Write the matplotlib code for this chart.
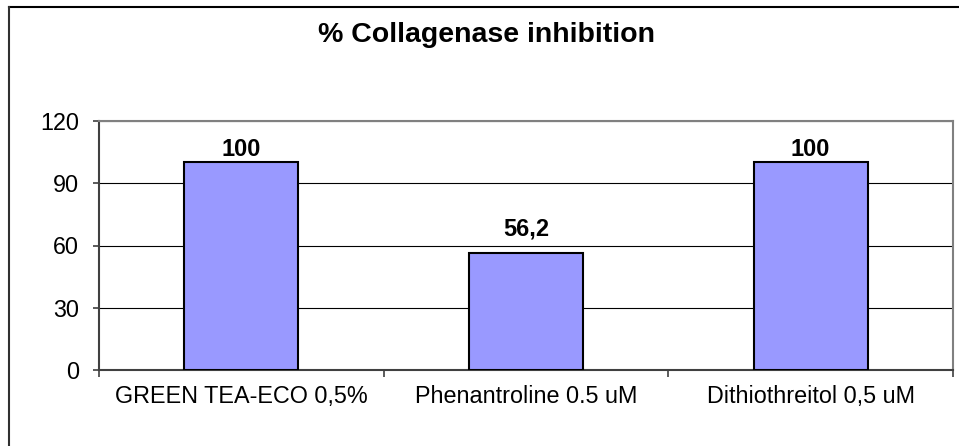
import matplotlib
matplotlib.use("Agg")
import matplotlib.pyplot as plt
from matplotlib.lines import Line2D

categories = ["GREEN TEA-ECO 0,5%", "Phenantroline 0.5 uM", "Dithiothreitol 0,5 uM"]
values = [100, 56.2, 100]
value_labels = ["100", "56,2", "100"]
y_ticks = [0, 30, 60, 90, 120]

plt.rcParams["font.family"] = ["Liberation Sans", "DejaVu Sans"]

fig = plt.figure(figsize=(9.59, 4.46), dpi=100)
ax = fig.add_axes([99 / 959, 76 / 446, 854 / 959, 249 / 446])

x = list(range(len(categories)))
ax.bar(x, values, width=0.4, color="#9999FF", edgecolor="black", linewidth=1.5, zorder=3)

# the middle label sits a bit higher in the original
label_offsets = [1, 9, 1]
for xi, v, lab, off in zip(x, values, value_labels, label_offsets):
    ax.annotate(lab, (xi, v), xytext=(0, off), textcoords="offset points",
                ha="center", va="bottom", fontsize=17, fontweight="bold")

ax.set_xlim(-0.5, 2.5)
ax.set_ylim(0, 120)
ax.set_yticks(y_ticks)
ax.yaxis.grid(True, color="black", linewidth=0.8, zorder=0)
ax.set_axisbelow(True)

ax.set_xticks(x)
ax.set_xticklabels(categories)
ax.set_xticks([-0.5, 0.5, 1.5, 2.5], minor=True)
ax.tick_params(axis="x", which="major", length=0, pad=11, labelsize=16.8)
ax.tick_params(axis="x", which="minor", length=5, width=1.2, color="#404040", direction="out")
ax.tick_params(axis="y", length=4.5, width=1.2, color="#404040", pad=10, labelsize=16.8)

for side in ["top", "right"]:
    ax.spines[side].set_color("#808080")
    ax.spines[side].set_linewidth(1.5)
for side in ["left", "bottom"]:
    ax.spines[side].set_color("#404040")
    ax.spines[side].set_linewidth(1.5)

fig.text(486 / 959, 1 - 35 / 446, "% Collagenase inhibition", ha="center", va="center",
         fontsize=20.5, fontweight="bold")

# outer chart frame (only top and left edges fall inside the picture)
fig.add_artist(Line2D([9 / 959, 1.01], [1 - 7 / 446, 1 - 7 / 446], color="black", linewidth=1.5,
                      transform=fig.transFigure))
fig.add_artist(Line2D([9 / 959, 9 / 959], [1 - 7 / 446, -0.01], color="#303030", linewidth=1.5,
                      transform=fig.transFigure))

fig.savefig("out.png", dpi=100)
